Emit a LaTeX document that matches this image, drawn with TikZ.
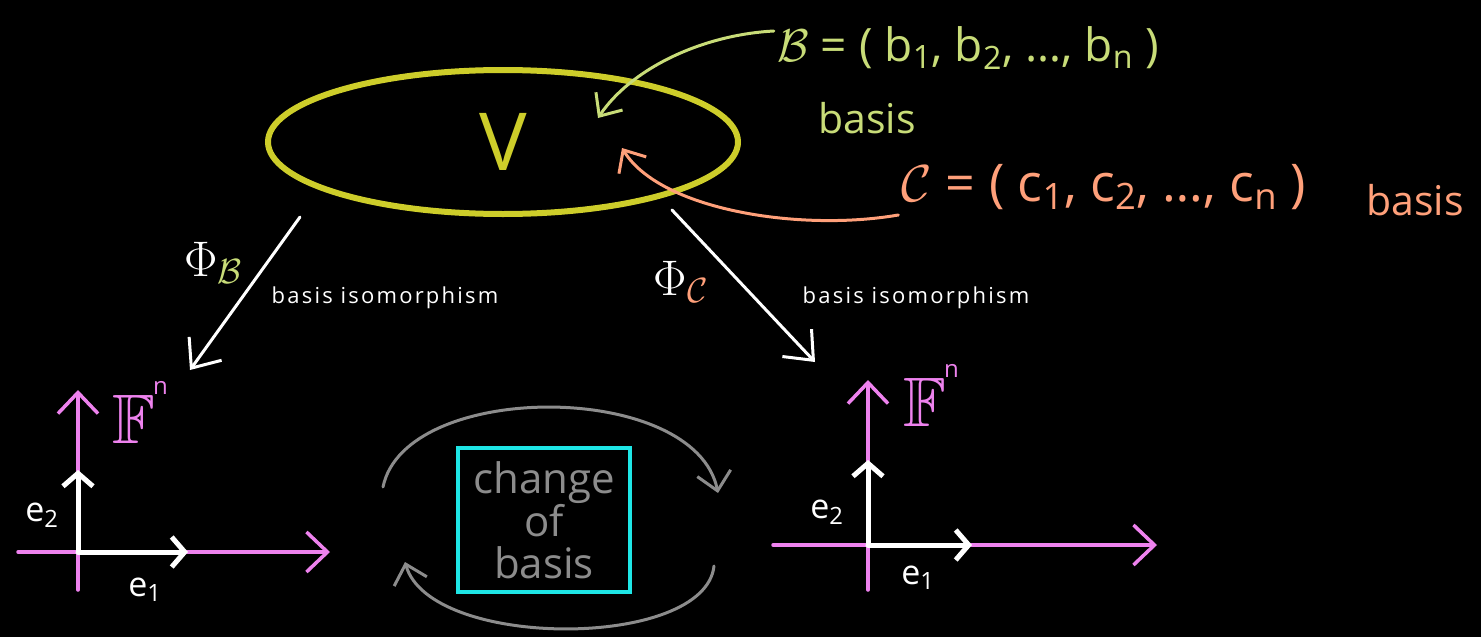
\RequirePackage{fix-cm}
\documentclass[tikz,border=0pt]{standalone}
\usepackage{amssymb}
\usepackage{fontspec}
\setmainfont{Open Sans}
\newfontfamily\isofont[LetterSpace=10]{Open Sans}
\usetikzlibrary{arrows.meta,shapes.geometric}

\begin{document}
\begin{tikzpicture}[x=1pt, y=-1pt,
    hand/.style={line cap=round, line join=round},
    basisarrow/.style={hand, line width=3pt, -{Straight Barb[length=18pt,width=32pt]}},
    maparrow/.style={hand, draw=white, line width=3pt, -{Straight Barb[length=24pt,width=40pt]}},
    axisline/.style={hand, draw=axisColour, line width=3.5pt, -{Straight Barb[length=21pt,width=40pt]}},
    basisvec/.style={hand, draw=white, line width=5pt, -{Straight Barb[length=13pt,width=30pt]}},
    looparrow/.style={hand, draw=loopColour, line width=3pt, -{Straight Barb[length=18pt,width=34pt]}},
    isotext/.style={text=white, font=\isofont\fontsize{22}{26}\selectfont},
    vectext/.style={text=white, font=\fontsize{34}{36}\selectfont},
    spacetext/.style={text=axisColour, font=\fontsize{70}{70}\selectfont},
    phitext/.style={text=white, font=\fontsize{50}{50}\selectfont}]

    % Define colours
    \definecolor{spaceColour}{HTML}{CDCD2A}
    \definecolor{bColour}{HTML}{C8DC78}
    \definecolor{cColour}{HTML}{FFA07A}
    \definecolor{axisColour}{HTML}{EE82EE}
    \definecolor{boxColour}{HTML}{1EE6E6}
    \definecolor{loopColour}{HTML}{8C8C8C}

    % Background
    \fill[black] (0,0) rectangle (1481,637);
    \useasboundingbox (0,0) rectangle (1481,637);

    % Draw the vector space V
    \node[ellipse, draw=spaceColour, line width=6pt, minimum width=470pt, minimum height=144pt,
          text=spaceColour, font=\fontsize{80}{80}\selectfont] (V) at (503,142) {V};

    % Draw the two bases
    \node[text=bColour, font=\fontsize{46}{50}\selectfont] (Btext) at (968,48)
        {$\mathcal{B}$ = ( b\textsubscript{1}, b\textsubscript{2}, \dots, b\textsubscript{n} )};
    \node[text=bColour, font=\fontsize{41}{44}\selectfont] (Bbasis) at (867,118) {basis};
    \node[text=cColour, font=\fontsize{52}{56}\selectfont] (Ctext) at (1104,187)
        {$\mathcal{C}$ = ( c\textsubscript{1}, c\textsubscript{2}, \dots, c\textsubscript{n} )};
    \node[text=cColour, font=\fontsize{41}{44}\selectfont] (Cbasis) at (1415,200) {basis};

    % Arrows from the bases into V
    \coordinate (bTip) at (598,118);
    \coordinate (cTip) at (622,148);
    \draw[basisarrow, draw=bColour] ([yshift=17pt]Btext.west) .. controls (700,35) and (630,70) .. (bTip);
    \draw[basisarrow, draw=cColour] ([yshift=-28pt]Ctext.west) .. controls (800,232) and (660,210) .. (cTip);

    % Draw the basis isomorphisms
    \coordinate (phiBfrom) at (300,217);
    \coordinate (phiBto) at (190,370);
    \coordinate (phiCfrom) at (672,210);
    \coordinate (phiCto) at (815,362);
    \draw[maparrow] (phiBfrom) -- (phiBto);
    \draw[maparrow] (phiCfrom) -- (phiCto);
    \node[phitext] (phiB) at (213,263) {$\Phi_{\textcolor{bColour}{\mathcal{B}}}$};
    \node[phitext] (phiC) at (681,282) {$\Phi_{\textcolor{cColour}{\mathcal{C}}}$};
    \node[isotext] (isoB) at (385,298) {basis isomorphism};
    \node[isotext] (isoC) at (916,298) {basis isomorphism};

    % Draw left copy of F^n
    \coordinate (originL) at (78,552);
    \draw[axisline] (18,552) -- (330,552);
    \draw[axisline] (78,590) -- (78,390);
    \draw[basisvec] (originL) -- (188,552);
    \draw[basisvec] (originL) -- (78,470);
    \node[spacetext] (FL) at (140,412) {$\mathbb{F}$\kern-2pt\raisebox{0.7em}{\fontsize{24}{24}\selectfont n}};
    \node[vectext] (e2L) at (42,515) {e\textsubscript{2}};
    \node[vectext] (e1L) at (145,590) {e\textsubscript{1}};

    % Draw right copy of F^n
    \coordinate (originR) at (868,545);
    \draw[axisline] (773,545) -- (1157,545);
    \draw[axisline] (868,590) -- (868,380);
    \draw[basisvec] (originR) -- (972,545);
    \draw[basisvec] (originR) -- (868,460);
    \node[spacetext] (FR) at (931,395) {$\mathbb{F}$\kern-2pt\raisebox{0.7em}{\fontsize{24}{24}\selectfont n}};
    \node[vectext] (e2R) at (827,512) {e\textsubscript{2}};
    \node[vectext] (e1R) at (918,578) {e\textsubscript{1}};

    % Change of basis
    \node[draw=boxColour, line width=4pt, minimum width=172pt, minimum height=144pt,
          text=loopColour, align=center, font=\fontsize{42}{42}\selectfont] (change) at (544,520)
        {change\\of\\basis};
    \draw[looparrow] (383,487) .. controls (405,380) and (695,380) .. (718,493);
    \draw[looparrow] (714,566) .. controls (705,650) and (430,650) .. (405,562);

\end{tikzpicture}
\end{document}
